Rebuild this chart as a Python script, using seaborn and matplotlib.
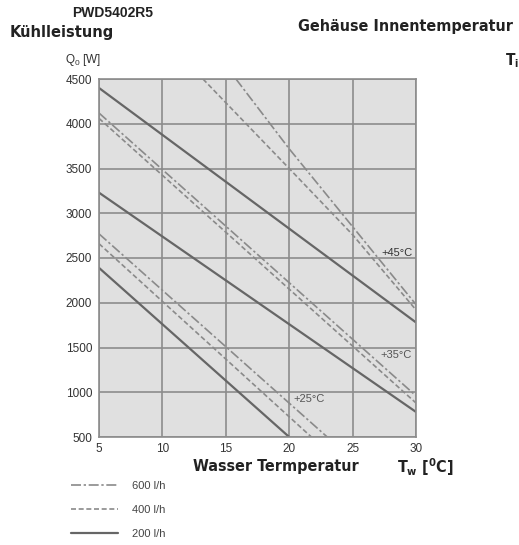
import matplotlib
matplotlib.use("Agg")
import matplotlib.pyplot as plt
import seaborn as sns
import pandas as pd

# ---- data ----
# water temperature Tw [°C] and cooling power Q0 [W] per (inner temperature, flow)
tw_45_600 = [15.8, 20, 25, 30]
q_45_600 = [4500, 3720, 2850, 1980]
tw_45_400 = [13.2, 20, 25, 30]
q_45_400 = [4500, 3500, 2760, 1920]
tw_45_200 = [5, 30]
q_45_200 = [4400, 1780]

tw_35_600 = [5, 30]
q_35_600 = [4120, 960]
tw_35_400 = [5, 30]
q_35_400 = [4060, 880]
tw_35_200 = [5, 30]
q_35_200 = [3230, 780]

tw_25_600 = [5, 23.0]
q_25_600 = [2770, 500]
tw_25_400 = [5, 21.75]
q_25_400 = [2660, 500]
tw_25_200 = [5, 20.0]
q_25_200 = [2390, 500]

flows = ["600 l/h", "400 l/h", "200 l/h"]
temp_labels = ["+45°C", "+35°C", "+25°C"]
x_ticks = [5, 10, 15, 20, 25, 30]
y_ticks = [500, 1000, 1500, 2000, 2500, 3000, 3500, 4000, 4500]

series = [
    ("45", "600 l/h", tw_45_600, q_45_600),
    ("45", "400 l/h", tw_45_400, q_45_400),
    ("45", "200 l/h", tw_45_200, q_45_200),
    ("35", "600 l/h", tw_35_600, q_35_600),
    ("35", "400 l/h", tw_35_400, q_35_400),
    ("35", "200 l/h", tw_35_200, q_35_200),
    ("25", "600 l/h", tw_25_600, q_25_600),
    ("25", "400 l/h", tw_25_400, q_25_400),
    ("25", "200 l/h", tw_25_200, q_25_200),
]
rows = []
for ti, fl, xs, ys in series:
    for x, y in zip(xs, ys):
        rows.append({"Ti": ti, "flow": fl, "Tw": x, "Q": y})
df = pd.DataFrame(rows)

sns.set_style("white")
plt.rcParams["font.family"] = ["Liberation Sans", "DejaVu Sans"]
cond = dict(family=["DejaVu Sans"], stretch="condensed", fontweight="bold", color="#222222")

styles = {
    "600 l/h": dict(color="#8a8a8a", lw=1.2, dashes=(6, 1.6, 1.4, 1.6)),
    "400 l/h": dict(color="#8a8a8a", lw=1.2, dashes=(3, 1.6)),
    "200 l/h": dict(color="#666666", lw=1.6, dashes=None),
}

fig = plt.figure(figsize=(5.19, 5.45), dpi=100)
ax = fig.add_axes([99 / 519, 1 - 437 / 545, 317 / 519, 358 / 545])
ax.set_facecolor("#e0e0e0")

handles = {}
for (ti, fl), sub in df.groupby(["Ti", "flow"], sort=False):
    st = styles[fl]
    sns.lineplot(data=sub, x="Tw", y="Q", ax=ax, color=st["color"], lw=st["lw"],
                 estimator=None, sort=False, legend=False)
    line = ax.lines[-1]
    if st["dashes"] is not None:
        line.set_dashes(st["dashes"])
    handles[fl] = line

ax.set_xlim(5, 30)
ax.set_ylim(500, 4500)
ax.set_xticks(x_ticks)
ax.set_yticks(y_ticks)
ax.set_xticklabels([str(v) for v in x_ticks])
ax.set_yticklabels([str(v) for v in y_ticks])
ax.tick_params(length=0, labelsize=8.5, colors="#333333")
ax.tick_params(axis="x", pad=4)
ax.tick_params(axis="y", pad=5)
ax.grid(True, color="#8c8c8c", lw=1.2)
ax.set_axisbelow(True)
for s in ax.spines.values():
    s.set_color("#8c8c8c")
    s.set_linewidth(1.2)
ax.set_xlabel("")
ax.set_ylabel("")

# curve labels
ax.text(29.7, 2551, temp_labels[0], ha="right", va="center", fontsize=8, color="#333333")
ax.text(29.7, 1420, temp_labels[1], ha="right", va="center", fontsize=8, color="#555555")
ax.text(20.3, 922, temp_labels[2], ha="left", va="center", fontsize=8, color="#555555")

# titles
fig.text(72 / 519, 1 - 13 / 545, "PWD5402R5", ha="left", va="center",
         fontsize=10, fontweight="bold", color="#222222")
fig.text(10 / 519, 1 - 32 / 545, "Kühlleistung", ha="left", va="center", fontsize=11.7, **cond)
fig.text(298 / 519, 1 - 26 / 545, "Gehäuse Innentemperatur", ha="left", va="center",
         fontsize=11.5, **cond)
fig.text(505 / 519, 1 - 61 / 545, r"T$_\mathregular{i}$", ha="left", va="center",
         fontsize=11, **cond)
fig.text(65 / 519, 1 - 60 / 545, r"Q$_\mathregular{0}$ [W]", ha="left", va="center",
         fontsize=8.5, color="#333333")
fig.text(193 / 519, 1 - 467 / 545, "Wasser Termperatur", ha="left", va="center",
         fontsize=11.5, **cond)
fig.text(397 / 519, 1 - 467 / 545, r"T$_\mathregular{w}$ [$^\mathregular{0}$C]", ha="left",
         va="center", fontsize=11.5, **cond)

leg = ax.legend([handles[f] for f in flows], flows, loc="upper left",
                bbox_to_anchor=(71 / 519, 1 - 481 / 545), bbox_transform=fig.transFigure,
                frameon=False, fontsize=8, handlelength=4.2, handletextpad=1.25,
                labelspacing=1.25, borderpad=0, borderaxespad=0)
for t in leg.get_texts():
    t.set_color("#444444")

fig.savefig("out.png", dpi=100, facecolor="white")
